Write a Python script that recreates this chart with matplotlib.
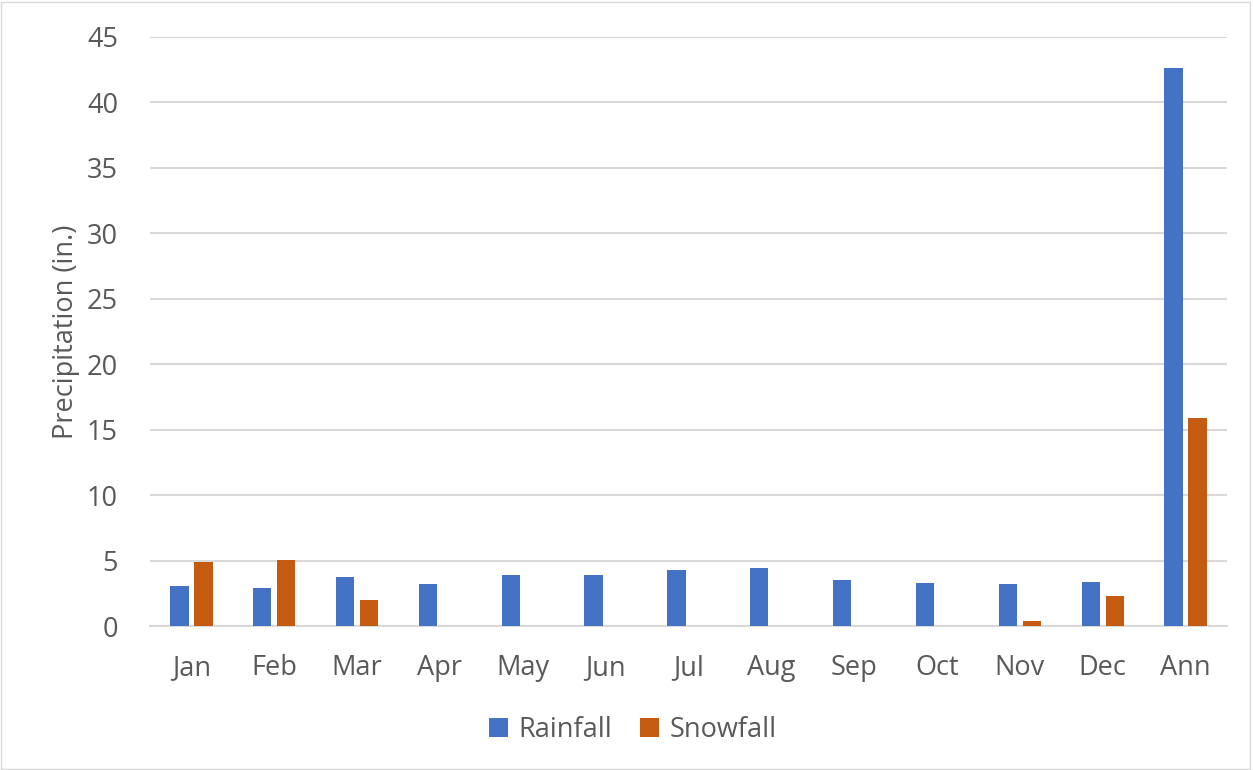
import numpy as np
import matplotlib.pyplot as plt
from matplotlib.patches import Rectangle

# Monthly precipitation (inches)
months = ["Jan", "Feb", "Mar", "Apr", "May", "Jun", "Jul", "Aug", "Sep", "Oct", "Nov", "Dec", "Ann"]
rainfall = [3.02, 2.87, 3.77, 3.23, 3.92, 3.90, 4.26, 4.41, 3.54, 3.31, 3.18, 3.38, 42.66]
snowfall = [4.90, 5.08, 1.97, 0, 0, 0, 0, 0, 0, 0, 0.36, 2.28, 15.89]

blue = "#4472C4"
orange = "#C55A11"
text_color = "#595959"

plt.rcParams["font.family"] = ["Open Sans", "DejaVu Sans"]

fig = plt.figure(figsize=(12.53, 7.7), dpi=100)
ax = fig.add_axes([0.1197, 0.187, 0.8595, 0.765])

x = np.arange(len(months))
w = 0.22
off = 0.145
ax.bar(x - off, rainfall, w, color=blue, label="Rainfall", zorder=3)
ax.bar(x + off, snowfall, w, color=orange, label="Snowfall", zorder=3)

ax.set_xlim(-0.5, len(months) - 0.5)
ax.set_ylim(0, 45)
ax.set_yticks(range(0, 46, 5))
ax.set_xticks(x)
ax.set_xticklabels(months)
ax.yaxis.grid(True, color="#D9D9D9", linewidth=1.5, zorder=0)
ax.tick_params(axis="both", length=0, labelsize=19.5, labelcolor=text_color)
ax.tick_params(axis="y", pad=23)
ax.tick_params(axis="x", pad=20)
for s in ["top", "right", "left"]:
    ax.spines[s].set_visible(False)
ax.spines["bottom"].set_color("#D9D9D9")
ax.spines["bottom"].set_linewidth(1.5)

ax.set_ylabel("Precipitation (in.)", fontsize=19.5, color=text_color, labelpad=5)

leg = fig.legend(loc="center", bbox_to_anchor=(0.505, 0.052), ncol=2, frameon=False,
                 fontsize=19.5, handlelength=0.7, handleheight=0.7, handletextpad=0.4,
                 columnspacing=1.0)
for t in leg.get_texts():
    t.set_color(text_color)

# light border around the chart area
fig.patches.append(Rectangle((0.001, 0.001), 0.997, 0.997, transform=fig.transFigure,
                             fill=False, edgecolor="#D9D9D9", linewidth=1))

plt.savefig("out.png", dpi=100)
